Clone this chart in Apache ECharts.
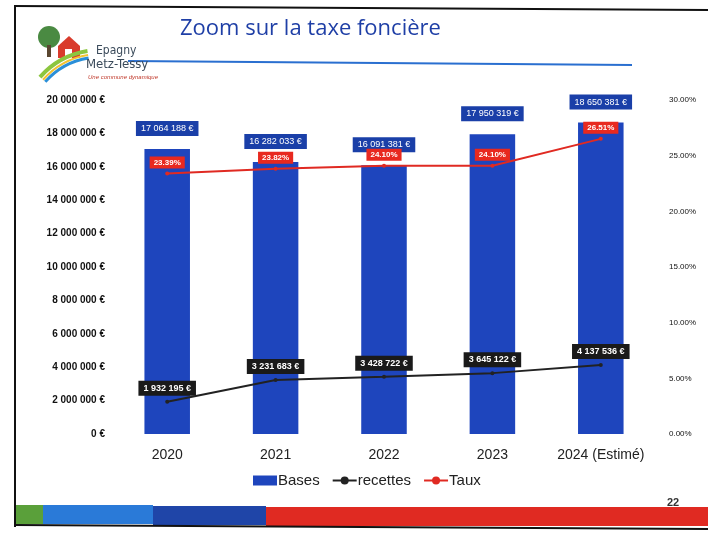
<!DOCTYPE html>
<html>
<head>
<meta charset="utf-8">
<script src="https://cdn.jsdelivr.net/npm/echarts@6/dist/echarts.min.js"></script>
<style>
html,body{margin:0;padding:0;background:#fff;}
#chart{width:708px;height:533px;}
</style>
</head>
<body>
<div id="chart"></div>
<script>
var categories = ['2020', '2021', '2022', '2023', '2024 (Estimé)'];
var bases = [17064188, 16282033, 16091381, 17950319, 18650381];
var recettes = [1932195, 3231683, 3428722, 3645122, 4137536];
var taux = [23.39, 23.82, 24.10, 24.10, 26.51];

function euro(v) {
	return String(Math.round(v)).replace(/\B(?=(\d{3})+(?!\d))/g, ' ') + ' €';
}

var Chart = {
	init: function () {
		var myChart = echarts.init(document.getElementById('chart'));
		var option = {
			backgroundColor: '#fff',
			animation: false,
			textStyle: {fontFamily: 'Liberation Sans, Arial, sans-serif'},
			graphic: [
				// cadre de la diapo
				{type: 'line', shape: {x1: 14, y1: 6, x2: 708, y2: 10}, style: {stroke: '#111', lineWidth: 2}},
				{type: 'line', shape: {x1: 15, y1: 6, x2: 15, y2: 527}, style: {stroke: '#111', lineWidth: 2}},
				// titre
				{type: 'text', left: 180, top: 18, style: {text: 'Zoom sur la taxe foncière', fill: '#1f3fa6', font: '22px "Open Sans", sans-serif'}},
				{type: 'line', shape: {x1: 128, y1: 61, x2: 632, y2: 65}, style: {stroke: '#2a6fd0', lineWidth: 2}},
				// logo
				{type: 'circle', shape: {cx: 49, cy: 37, r: 11}, style: {fill: '#4a8a42'}},
				{type: 'rect', shape: {x: 47, y: 45, width: 4, height: 12}, style: {fill: '#5a4630'}},
				{type: 'polygon', shape: {points: [[58, 46], [69, 36], [80, 46], [80, 58], [58, 58]]}, style: {fill: '#d93b2c'}},
				{type: 'rect', shape: {x: 65, y: 49, width: 7, height: 9}, style: {fill: '#fff'}},
				{type: 'arc', shape: {cx: 100, cy: 130, r: 80, startAngle: Math.PI * 1.23, endAngle: Math.PI * 1.45}, style: {stroke: '#8cc63f', lineWidth: 4}},
				{type: 'arc', shape: {cx: 100, cy: 130, r: 76, startAngle: Math.PI * 1.23, endAngle: Math.PI * 1.45}, style: {stroke: '#f2c230', lineWidth: 2}},
				{type: 'arc', shape: {cx: 100, cy: 130, r: 73, startAngle: Math.PI * 1.23, endAngle: Math.PI * 1.45}, style: {stroke: '#2a8fd8', lineWidth: 3}},
				{type: 'text', left: 96, top: 45, style: {text: 'Epagny', fill: '#3a4a5a', font: '12px "DejaVu Sans Condensed", sans-serif'}},
				{type: 'text', left: 86, top: 58, style: {text: 'Metz-Tessy', fill: '#3a4a5a', font: '13px "DejaVu Sans Condensed", sans-serif'}},
				{type: 'text', left: 88, top: 74, style: {text: 'Une commune dynamique', fill: '#c0392b', font: 'italic 6px sans-serif'}},
				// bandes de couleur en bas
				{type: 'rect', shape: {x: 16, y: 505, width: 27, height: 19}, style: {fill: '#5aa03a'}},
				{type: 'rect', shape: {x: 43, y: 505, width: 110, height: 19}, style: {fill: '#2a7ad8'}},
				{type: 'rect', shape: {x: 153, y: 506, width: 113, height: 19}, style: {fill: '#1f45a8'}},
				{type: 'rect', shape: {x: 266, y: 507, width: 442, height: 19}, style: {fill: '#e02a22'}},
				{type: 'line', shape: {x1: 15, y1: 525, x2: 708, y2: 529}, style: {stroke: '#111', lineWidth: 2}},
				{type: 'text', left: 667, top: 497, style: {text: '22', fill: '#333', font: 'bold 11px sans-serif'}}
			],
			legend: {
				bottom: 40,
				left: 248,
				itemGap: 12,
				itemWidth: 24,
				itemHeight: 10,
				textStyle: {fontSize: 15, color: '#222', padding: [0, 0, 0, -4]},
				data: [
					{name: 'Bases', icon: 'rect'},
					{name: 'recettes'},
					{name: 'Taux'}
				]
			},
			grid: {left: 113, right: 53, top: 100, bottom: 99},
			xAxis: {
				type: 'category',
				data: categories,
				axisLine: {show: false},
				axisTick: {show: false},
				axisLabel: {color: '#222', fontSize: 14, margin: 14, interval: 0}
			},
			yAxis: [
				{
					type: 'value',
					min: 0,
					max: 20000000,
					interval: 2000000,
					splitLine: {show: false},
					axisLabel: {color: '#111', fontSize: 10, fontWeight: 'bold', margin: 8, formatter: euro}
				},
				{
					type: 'value',
					min: 0,
					max: 30,
					interval: 5,
					splitLine: {show: false},
					axisLabel: {color: '#111', fontSize: 8, margin: 14, formatter: function (v) { return v.toFixed(2) + '%'; }}
				}
			],
			series: [
				{
					name: 'Bases',
					type: 'bar',
					data: bases,
					barWidth: '42%',
					itemStyle: {color: '#1e45bd'},
					label: {
						show: true,
						position: 'top',
						distance: 13,
						backgroundColor: '#1a3fa8',
						color: '#fff',
						fontSize: 9,
						padding: [3, 5],
						formatter: function (p) { return euro(p.value); }
					}
				},
				{
					name: 'recettes',
					type: 'line',
					data: recettes,
					symbol: 'circle',
					symbolSize: 4,
					itemStyle: {color: '#222'},
					lineStyle: {color: '#222', width: 2},
					label: {
						show: true,
						position: 'top',
						distance: 4,
						backgroundColor: '#1a1a1a',
						color: '#fff',
						fontSize: 9,
						fontWeight: 'bold',
						padding: [3, 5],
						formatter: function (p) { return euro(p.value); }
					}
				},
				{
					name: 'Taux',
					type: 'line',
					yAxisIndex: 1,
					data: taux,
					symbol: 'circle',
					symbolSize: 4,
					itemStyle: {color: '#e02a22'},
					lineStyle: {color: '#e02a22', width: 2},
					label: {
						show: true,
						position: 'top',
						distance: 3,
						backgroundColor: '#e8291f',
						color: '#fff',
						fontSize: 8,
						fontWeight: 'bold',
						padding: [2, 4],
						formatter: function (p) { return p.value.toFixed(2) + '%'; }
					}
				}
			]
		};
		myChart.setOption(option, true);
	}
};

Chart.init();
</script>
</body>
</html>
